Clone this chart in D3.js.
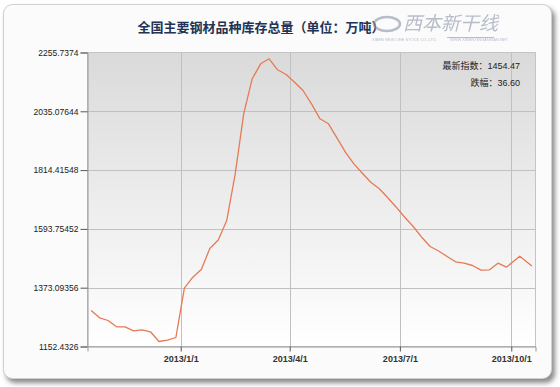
<!DOCTYPE html>
<html>
<head>
<meta charset="utf-8">
<script src="https://cdn.jsdelivr.net/npm/d3@7"></script>
<style>
  body { margin: 0; background: #fff; }
  svg { display: block; }
</style>
</head>
<body>
<div id="chart"></div>
<script>
// weekly inventory (万吨)
var dates = ["2012-10-19","2012-10-26","2012-11-02","2012-11-09","2012-11-16","2012-11-23","2012-11-30",
  "2012-12-07","2012-12-14","2012-12-21","2012-12-28","2013-01-04","2013-01-11","2013-01-18","2013-01-25",
  "2013-02-01","2013-02-08","2013-02-15","2013-02-22","2013-03-01","2013-03-08","2013-03-15","2013-03-22",
  "2013-03-29","2013-04-05","2013-04-12","2013-04-19","2013-04-26","2013-05-03","2013-05-10","2013-05-17",
  "2013-05-24","2013-05-31","2013-06-07","2013-06-14","2013-06-21","2013-06-28","2013-07-05","2013-07-12",
  "2013-07-19","2013-07-26","2013-08-02","2013-08-09","2013-08-16","2013-08-23","2013-08-30","2013-09-06",
  "2013-09-13","2013-09-20","2013-09-27","2013-10-08","2013-10-18"];
var values = [1287.5,1260.1,1250.0,1226.4,1226.0,1211.3,1215.1,
  1207.6,1171.2,1176.1,1186.2,1371.2,1412.5,1441.4,1520.2,
  1552.1,1625.3,1800.5,2025.7,2157.0,2213.3,2232.1,2190.8,
  2173.2,2144.3,2113.1,2063.2,2006.9,1988.2,1935.6,1881.6,
  1838.0,1802.8,1769.0,1744.2,1710.5,1675.2,1637.6,1602.8,
  1562.6,1527.7,1510.8,1490.2,1470.3,1465.0,1456.4,1438.8,
  1440.3,1465.0,1450.0,1491.07,1454.47];
var yTicks = [1152.4326, 1373.09356, 1593.75452, 1814.41548, 2035.07644, 2255.7374];
var xTicks = ["2013-01-01","2013-04-01","2013-07-01","2013-10-01"];
var xDomain = ["2012-10-16","2013-10-21"];
var title = "全国主要钢材品种库存总量（单位：万吨）";
var latestLabel = "最新指数：1454.47";
var changeLabel = "跌幅：36.60";

var W = 560, H = 387;
var parse = d3.timeParse("%Y-%m-%d");
var fmt = d3.timeFormat("%Y/%-m/%-d");
var data = dates.map(function (d, i) { return {date: parse(d), value: values[i]}; });
var numFont = "'Liberation Sans', Arial, sans-serif";
var cjkFont = "'Liberation Sans', 'Noto Sans CJK SC', sans-serif";

var svg = d3.select("#chart").append("svg").attr("width", W).attr("height", H);
var defs = svg.append("defs");

var bg = defs.append("linearGradient").attr("id", "plotbg").attr("x1", 0).attr("y1", 0).attr("x2", 0).attr("y2", 1);
bg.append("stop").attr("offset", "0%").attr("stop-color", "#dadada");
bg.append("stop").attr("offset", "100%").attr("stop-color", "#ffffff");

var blur = defs.append("filter").attr("id", "shadow").attr("x", "-5%").attr("y", "-5%").attr("width", "115%").attr("height", "115%");
blur.append("feGaussianBlur").attr("stdDeviation", 2.5);

// panel with shadow
svg.append("rect").attr("x", 6).attr("y", 8).attr("width", 549).attr("height", 375).attr("rx", 9)
  .attr("fill", "#8a8a8a").attr("filter", "url(#shadow)");
svg.append("rect").attr("x", 3.5).attr("y", 4.5).attr("width", 548).attr("height", 374).attr("rx", 9)
  .attr("fill", "#fbfbfb").attr("stroke", "#d0d0d0");

var m = {left: 87.5, top: 52.5, right: 535.5, bottom: 346.5};
var x = d3.scaleTime().domain(xDomain.map(parse)).range([m.left, m.right]);
var y = d3.scaleLinear().domain([yTicks[0], yTicks[yTicks.length - 1]]).range([m.bottom, m.top]);

svg.append("rect").attr("x", m.left).attr("y", m.top).attr("width", m.right - m.left).attr("height", m.bottom - m.top)
  .attr("fill", "url(#plotbg)").attr("stroke", "#c4c4c4");

// grid
svg.append("g").selectAll("line").data(yTicks.slice(1, -1)).enter().append("line")
  .attr("x1", m.left).attr("x2", m.right)
  .attr("y1", function (d) { return Math.round(y(d)) + 0.5; })
  .attr("y2", function (d) { return Math.round(y(d)) + 0.5; })
  .attr("stroke", "#c0c0c0");
svg.append("g").selectAll("line").data(xTicks.map(parse)).enter().append("line")
  .attr("y1", m.top).attr("y2", m.bottom)
  .attr("x1", function (d) { return Math.round(x(d)) + 0.5; })
  .attr("x2", function (d) { return Math.round(x(d)) + 0.5; })
  .attr("stroke", "#c0c0c0");

// axes
var yAxis = d3.axisLeft(y).tickValues(yTicks).tickSize(7).tickPadding(2).tickFormat(function (d) { return String(d); });
var gy = svg.append("g").attr("transform", "translate(" + m.left + ",0)").call(yAxis);
var xAxis = d3.axisBottom(x).tickValues(xTicks.map(parse)).tickSize(5).tickPadding(4).tickFormat(fmt);
var gx = svg.append("g").attr("transform", "translate(0," + m.bottom + ")").call(xAxis);
[gy, gx].forEach(function (g) {
  g.select(".domain").attr("stroke", "#9a9a9a");
  g.selectAll(".tick line").attr("stroke", "#555");
  g.selectAll(".tick text").attr("fill", "#1a1a1a").style("font-size", "8.5px").style("font-family", numFont);
});
gx.selectAll(".tick text").style("font-weight", "bold").style("font-size", "9px").attr("fill", "#333");

// line
var line = d3.line().x(function (d) { return x(d.date); }).y(function (d) { return y(d.value); });
svg.append("path").datum(data).attr("d", line).attr("fill", "none")
  .attr("stroke", "#e57a55").attr("stroke-width", 1.3).attr("stroke-linejoin", "round");

// title
svg.append("text").attr("x", 261).attr("y", 32).attr("text-anchor", "middle")
  .style("font-family", "'Noto Sans CJK SC', sans-serif").style("font-size", "13px").style("font-weight", "bold")
  .attr("fill", "#223355").text(title);

// watermark logo
var logo = svg.append("g").attr("opacity", 0.6);
logo.append("ellipse").attr("cx", 387).attr("cy", 24).attr("rx", 13).attr("ry", 7).attr("fill", "none").attr("stroke", "#8a93a8").attr("stroke-width", 2.5);
logo.append("text").attr("x", 403).attr("y", 30).style("font-family", "'Noto Sans CJK SC', sans-serif")
  .style("font-size", "19px").style("font-style", "italic").attr("fill", "#8a93a8").text("西本新干线");
logo.append("text").attr("x", 372).attr("y", 41).style("font-size", "4px").style("font-family", numFont).attr("fill", "#8a93a8").text("XIBEN NEW LINE STOCK CO.,LTD.");
logo.append("text").attr("x", 450).attr("y", 41).style("font-size", "4px").style("font-family", numFont).attr("fill", "#8a93a8").text("WWW.XIBENXINGANXIAN.NET");
logo.append("line").attr("x1", 447).attr("x2", 494).attr("y1", 37.5).attr("y2", 37.5).attr("stroke", "#8a93a8");

// info labels
svg.append("text").attr("x", 520).attr("y", 69).attr("text-anchor", "end")
  .style("font-family", cjkFont).style("font-size", "9px").attr("fill", "#222").text(latestLabel);
svg.append("text").attr("x", 520).attr("y", 86).attr("text-anchor", "end")
  .style("font-family", cjkFont).style("font-size", "9px").attr("fill", "#222").text(changeLabel);
</script>
</body>
</html>
